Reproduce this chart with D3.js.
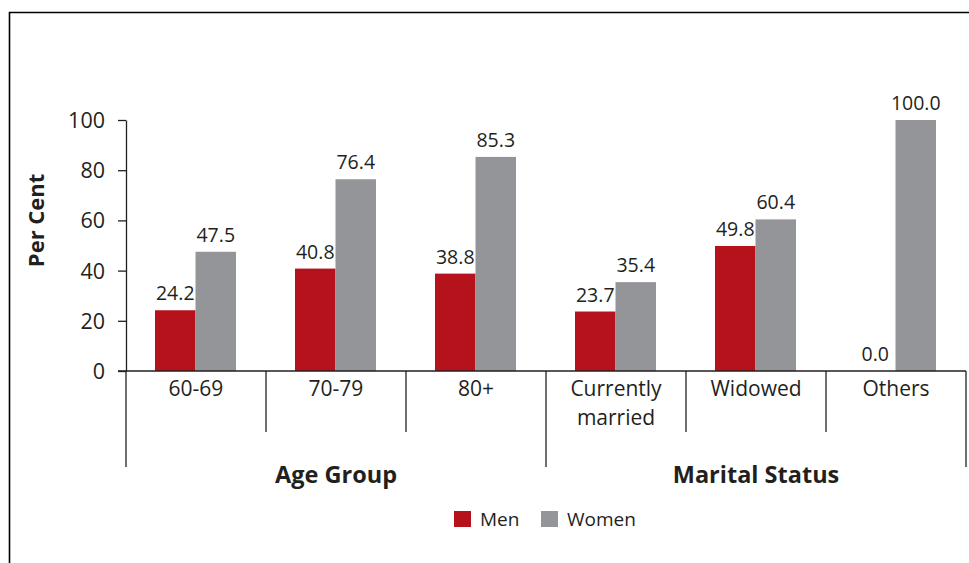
<!DOCTYPE html>
<html>
<head>
<meta charset="utf-8">
<script src="https://cdn.jsdelivr.net/npm/d3@7"></script>
<style>
  body { margin: 0; background: #fff; }
  text { font-family: "Open Sans", sans-serif; fill: #231f20; }
</style>
</head>
<body>
<div class="svg"></div>
<script>
// data
const categories = ["60-69", "70-79", "80+", "Currently married", "Widowed", "Others"];
const groups = ["Age Group", "Marital Status"];
const groupOf = [0, 0, 0, 1, 1, 1];
const series = ["Men", "Women"];
const men = [24.2, 40.8, 38.8, 23.7, 49.8, 0.0];
const women = [47.5, 76.4, 85.3, 35.4, 60.4, 100.0];
const yTicks = [0, 20, 40, 60, 80, 100];
const colors = ["#b5121b", "#939598"];

const width = 969, height = 563;
const svg = d3.select(".svg").append("svg").attr("width", width).attr("height", height);

// frame
svg.append("path")
  .attr("d", "M9.5," + height + "V12.5H" + width)
  .attr("fill", "none").attr("stroke", "#000").attr("stroke-width", 1.6);

let scaleX = d3.scaleBand().domain(categories).range([126, 966]).padding(0);
let scaleS = d3.scaleBand().domain(series).range([29, 110]).padding(0);
let scaleY = d3.scaleLinear().domain([0, 100]).range([371, 120]);

// y axis
let axisY = d3.axisLeft(scaleY).tickValues(yTicks).tickSize(8).tickSizeOuter(0).tickFormat(d3.format("d"));
let gy = svg.append("g").attr("transform", "translate(126,0)").call(axisY);
gy.select(".domain").attr("stroke", "#231f20").attr("stroke-width", 1.3);
gy.selectAll(".tick line").attr("stroke", "#231f20").attr("stroke-width", 1.3);
gy.selectAll(".tick text").attr("x", -21).attr("dy", "0.35em")
  .style("font-size", "21.5px").style("font-family", "Open Sans").attr("fill", "#231f20");

svg.append("text")
  .attr("transform", "translate(44," + scaleY(60) + ") rotate(-90)")
  .attr("text-anchor", "middle")
  .style("font-size", "22px").style("font-weight", "bold")
  .text("Per Cent");

// bars
let rows = categories.map((c, i) => ({ cat: c, vals: [men[i], women[i]] }));
let gs = svg.selectAll(".cat").data(rows).enter().append("g")
  .attr("class", "cat")
  .attr("transform", d => "translate(" + scaleX(d.cat) + ",0)");

gs.selectAll("rect").data(d => d.vals.map((v, j) => ({ s: series[j], v: v, j: j }))).enter()
  .append("rect")
  .attr("x", d => scaleS(d.s))
  .attr("y", d => scaleY(d.v))
  .attr("width", scaleS.bandwidth())
  .attr("height", d => scaleY(0) - scaleY(d.v))
  .attr("fill", d => colors[d.j]);

gs.selectAll(".val").data(d => d.vals.map((v, j) => ({ s: series[j], v: v }))).enter()
  .append("text")
  .attr("class", "val")
  .attr("x", d => scaleS(d.s) + scaleS.bandwidth() / 2)
  .attr("y", d => scaleY(d.v) - 10)
  .attr("text-anchor", "middle")
  .style("font-size", "19.5px")
  .text(d => d3.format(".1f")(d.v));

// x axis line
svg.append("line")
  .attr("x1", 118).attr("x2", 966)
  .attr("y1", scaleY(0)).attr("y2", scaleY(0))
  .attr("stroke", "#231f20").attr("stroke-width", 1.3);

// category dividers
let edges = categories.map(c => scaleX(c)).concat([scaleX.range()[1]]);
svg.selectAll(".div").data(edges).enter().append("line")
  .attr("x1", d => d).attr("x2", d => d)
  .attr("y1", scaleY(0))
  .attr("y2", (d, i) => (i === 0 || i === 3 || i === 6) ? 467 : 432)
  .attr("stroke", "#231f20").attr("stroke-width", 1.3);

// category labels
gs.append("text")
  .attr("x", scaleX.bandwidth() / 2)
  .attr("y", 396)
  .attr("text-anchor", "middle")
  .style("font-size", "21px")
  .each(function (d) {
    let words = d.cat === "Currently married" ? ["Currently", "married"] : [d.cat];
    d3.select(this).selectAll("tspan").data(words).enter().append("tspan")
      .attr("x", scaleX.bandwidth() / 2)
      .attr("dy", (w, k) => k === 0 ? 0 : 29)
      .text(w => w);
  });

// group labels
groups.forEach((g, gi) => {
  let cats = categories.filter((c, i) => groupOf[i] === gi);
  let x0 = scaleX(cats[0]), x1 = scaleX(cats[cats.length - 1]) + scaleX.bandwidth();
  svg.append("text")
    .attr("x", (x0 + x1) / 2).attr("y", 483)
    .attr("text-anchor", "middle")
    .style("font-size", "23.5px").style("font-weight", "bold")
    .text(g);
});

// legend
let legendX = [454, 541];
series.forEach((s, j) => {
  svg.append("rect").attr("x", legendX[j]).attr("y", 511).attr("width", 17).attr("height", 16).attr("fill", colors[j]);
  svg.append("text").attr("x", legendX[j] + 26).attr("y", 526).style("font-size", "19px").text(s);
});
</script>
</body>
</html>
